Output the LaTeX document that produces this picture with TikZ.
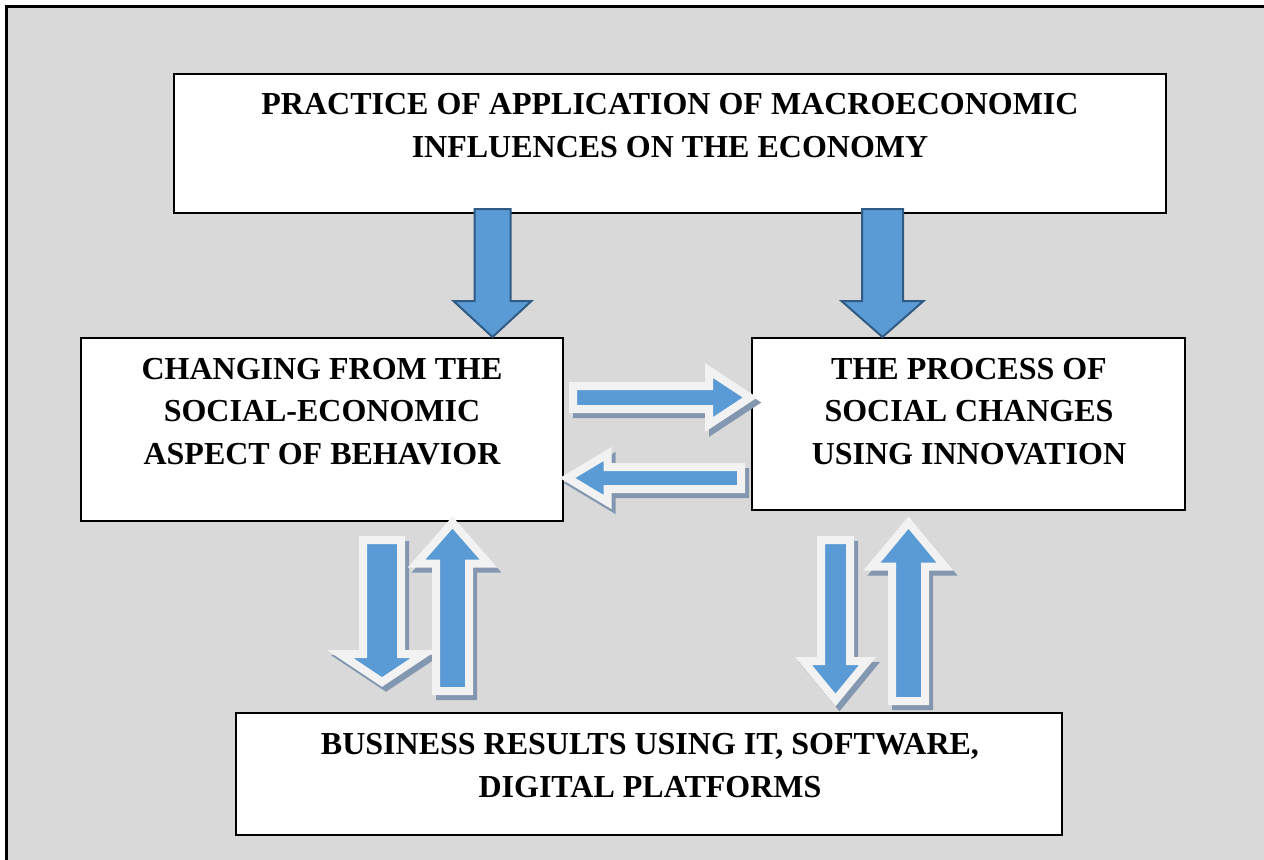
\documentclass[tikz,border=0pt]{standalone}
\usepackage{fontspec}
\setmainfont{Liberation Serif}
\usetikzlibrary{calc}

\definecolor{panelgray}{HTML}{D9D9D9}
\definecolor{arrowblue}{HTML}{5B9BD5}
\definecolor{arrowedge}{HTML}{2F5B85}
\definecolor{arrowwhite}{HTML}{F2F2F2}
\definecolor{arrowshadow}{HTML}{8497B0}

\tikzset{
    box/.style={draw=black, fill=white, line width=0.7pt},
    boxtext/.style={align=center, inner sep=0pt, font=\fontsize{16}{21.25}\selectfont\bfseries},
    solidarrow/.style={fill=arrowblue, draw=arrowedge, line width=1pt},
    hollowarrow/.style={fill=arrowblue, draw=arrowwhite, line width=4pt},
    shadowarrow/.style={fill=arrowshadow, draw=arrowshadow, line width=4pt,
        transform canvas={shift={(2pt,-2.5pt)}}},
}

% block arrow: [style]{tail}{tip}{shaft half width}{head half width}{head length}
\newcommand\blockarrow[6][]{%
    \coordinate (ba) at ($(#3)!#6!(#2)$);
    \draw[#1] ($(#2)!#4!90:(#3)$) -- ($(ba)!#4!90:(#3)$) -- ($(ba)!#5!90:(#3)$) -- (#3)
        -- ($(ba)!#5!-90:(#3)$) -- ($(ba)!#4!-90:(#3)$) -- ($(#2)!#4!-90:(#3)$) -- cycle;
}

\begin{document}
\begin{tikzpicture}[x=0.5pt,y=-0.5pt]
    \clip (0,0) rectangle (1264,859);
    \fill[panelgray] (6,6) rectangle (1280,880);
    \draw[line width=1.5pt] (6,880) -- (6,6) -- (1280,6);

    % boxes
    \node[box, minimum width=496pt, minimum height=69.5pt] (macro) at (670,143.5) {};
    \node[boxtext] (macroT) at (670,125.5)
        {PRACTICE OF APPLICATION OF MACROECONOMIC\\INFLUENCES ON THE ECONOMY};
    \node[box, minimum width=241pt, minimum height=91.5pt] (behav) at (322,429.5) {};
    \node[boxtext] (behavT) at (322,411.5)
        {CHANGING FROM THE\\SOCIAL-ECONOMIC\\ASPECT OF BEHAVIOR};
    \node[box, minimum width=216.5pt, minimum height=86pt] (innov) at (968.5,424) {};
    \node[boxtext] (innovT) at (969,411.5)
        {THE PROCESS OF\\SOCIAL CHANGES\\USING INNOVATION};
    \node[box, minimum width=413pt, minimum height=61pt] (business) at (649,774) {};
    \node[boxtext] (businessT) at (650,765.5)
        {BUSINESS RESULTS USING IT, SOFTWARE,\\DIGITAL PLATFORMS};

    % arrow ends
    \coordinate (m1s) at (492.5,209);  \coordinate (m1e) at (492.5,337);
    \coordinate (m2s) at (882.5,209);  \coordinate (m2e) at (882.5,337);
    \coordinate (bis) at (573,397.5);  \coordinate (bie) at (750,397.5);
    \coordinate (ibs) at (741,478);    \coordinate (ibe) at (567.5,478);
    \coordinate (bbs) at (382,540);    \coordinate (bbe) at (382,682);
    \coordinate (bus) at (452.5,691);  \coordinate (bue) at (452.5,522.5);
    \coordinate (ibds) at (835.5,540); \coordinate (ibde) at (835.5,700);
    \coordinate (ibus) at (908.5,701); \coordinate (ibue) at (908.5,522.5);

    \blockarrow[solidarrow]{m1s}{m1e}{9pt}{19.5pt}{18pt}
    \blockarrow[solidarrow]{m2s}{m2e}{10.25pt}{20.5pt}{18pt}

    \foreach \s/\e/\sw/\hw/\hl in {bis/bie/5.75pt/13.5pt/20.5pt, ibs/ibe/5.5pt/12pt/20pt,
            bbs/bbe/9.5pt/21pt/14pt, bus/bue/8.25pt/18pt/20.5pt,
            ibds/ibde/7.25pt/16pt/19.5pt, ibus/ibue/8.25pt/18.25pt/22pt} {
        \blockarrow[shadowarrow]{\s}{\e}{\sw}{\hw}{\hl}
    }
    \foreach \s/\e/\sw/\hw/\hl in {bis/bie/5.75pt/13.5pt/20.5pt, ibs/ibe/5.5pt/12pt/20pt,
            bbs/bbe/9.5pt/21pt/14pt, bus/bue/8.25pt/18pt/20.5pt,
            ibds/ibde/7.25pt/16pt/19.5pt, ibus/ibue/8.25pt/18.25pt/22pt} {
        \blockarrow[hollowarrow]{\s}{\e}{\sw}{\hw}{\hl}
    }
\end{tikzpicture}
\end{document}
